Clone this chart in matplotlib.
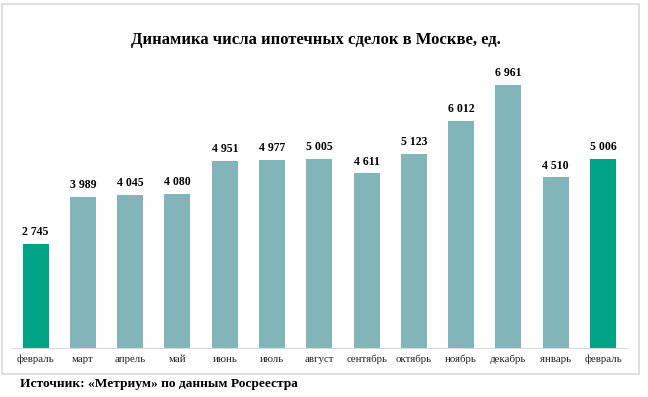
import matplotlib.pyplot as plt
from matplotlib.patches import Rectangle

months = ['февраль', 'март', 'апрель', 'май', 'июнь', 'июль', 'август',
          'сентябрь', 'октябрь', 'ноябрь', 'декабрь', 'январь', 'февраль']
deals = [2745, 3989, 4045, 4080, 4951, 4977, 5005, 4611, 5123, 6012, 6961, 4510, 5006]
highlight = [0, 12]

main_color = '#82B5BA'
accent_color = '#00A383'

plt.rcParams['font.family'] = ['Liberation Serif', 'DejaVu Serif']

fig = plt.figure(figsize=(6.48, 3.97), dpi=100)
W, H = 648, 397

# рамка вокруг диаграммы
fig.patches.append(Rectangle((2 / W, 1 - 374 / H), 637 / W, 370 / H,
                             transform=fig.transFigure, fill=False,
                             edgecolor='#D9D9D9', linewidth=1.2))

ax = fig.add_axes([12 / W, 1 - 347.7 / H, 614.7 / W, 287.7 / H])

colors = [accent_color if i in highlight else main_color for i in range(len(deals))]
x = list(range(len(deals)))
bars = ax.bar(x, deals, width=0.55, color=colors)

for b, v in zip(bars, deals):
    lbl = f'{v:,}'.replace(',', ' ')
    ax.text(b.get_x() + b.get_width() / 2, v + 150, lbl, ha='center', va='bottom',
            fontsize=8.5, fontweight='bold')

ax.set_xlim(-0.5, 12.5)
ax.set_ylim(0, 287.7 / 0.03778)
ax.set_xticks(x)
ax.set_xticklabels(months, fontsize=7.8, color='#222222')
ax.tick_params(axis='x', length=0, pad=5)
ax.set_yticks([])
for s in ['top', 'right', 'left']:
    ax.spines[s].set_visible(False)
ax.spines['bottom'].set_color('#D9D9D9')

fig.text(316 / W, 1 - 40 / H, 'Динамика числа ипотечных сделок в Москве, ед.',
         ha='center', va='center', fontsize=12, fontweight='bold')
fig.text(20 / W, 1 - 384 / H, 'Источник: «Метриум» по данным Росреестра',
         ha='left', va='center', fontsize=9.6, fontweight='bold')

fig.savefig('out.png', dpi=100)
